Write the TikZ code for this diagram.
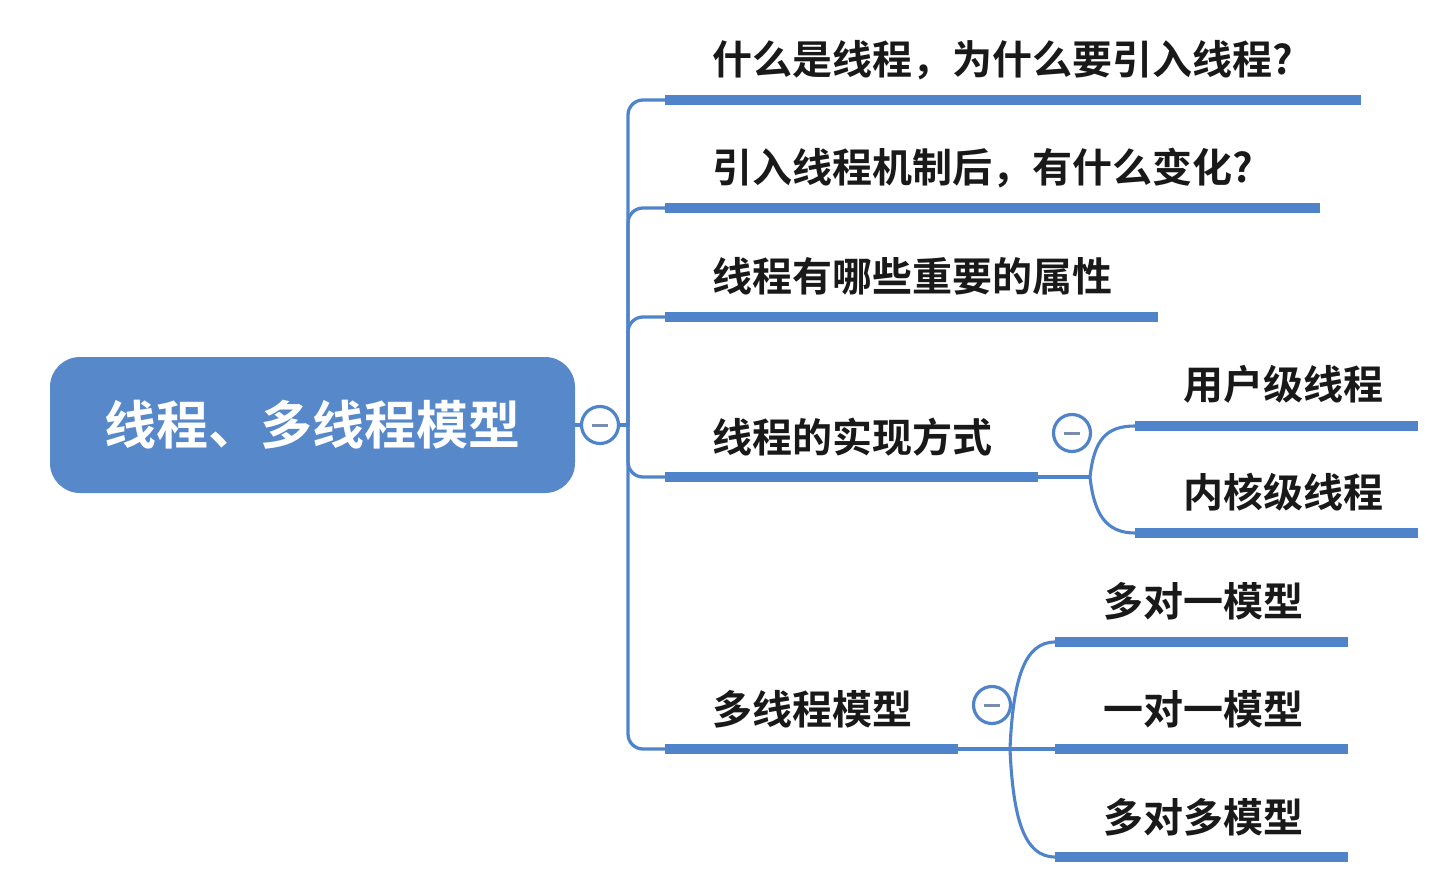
\documentclass[tikz,border=0pt]{standalone}
\usepackage{fontspec}
\newfontfamily\cjk{Noto Sans CJK SC}[UprightFont=* Medium,BoldFont=* Bold]
\definecolor{mblue}{RGB}{80,132,202}
\definecolor{rootblue}{RGB}{86,136,202}
\definecolor{minusc}{RGB}{120,140,175}
\begin{document}
\begin{tikzpicture}[x=1pt,y=-1pt,
  bar/.style={fill=mblue,draw=none,inner sep=0pt,minimum height=10.5pt,anchor=west},
  conn/.style={draw=mblue,line width=3.3pt,rounded corners=15pt},
  curv/.style={draw=mblue,line width=3.1pt},
  lbl/.style={font=\cjk\bfseries\fontsize{40}{48}\selectfont,text=black!90,inner sep=0pt,anchor=west},
  collapse/.style={circle,draw=mblue,line width=3.2pt,fill=white,minimum size=37pt,inner sep=0pt,
    path picture={\draw[minusc,line width=3pt] ([xshift=-8pt]path picture bounding box.center) -- ([xshift=8pt]path picture bounding box.center);}}
]
\useasboundingbox (0,0) rectangle (1434,874);
% root
\node[fill=rootblue,rounded corners=30pt,minimum width=525pt,minimum height=136pt,inner sep=0pt,
  text=white,font=\cjk\bfseries\fontsize{52}{60}\selectfont] (root) at (312.5,425) {线程、多线程模型};
\node[collapse] (c0) at (600,425) {};
\coordinate (j0) at (628,425);
\draw[curv] (root.east) -- (c0.west);
\draw[curv] (c0.east) -- (j0);
% bars
\node[bar,minimum width=696pt] (b1) at (665,100) {};
\node[bar,minimum width=655pt] (b2) at (665,208) {};
\node[bar,minimum width=493pt] (b3) at (665,317) {};
\node[bar,minimum width=373pt] (b4) at (665,477) {};
\node[bar,minimum width=293pt] (b5) at (665,749) {};
\node[bar,minimum width=283pt] (s1) at (1135,426) {};
\node[bar,minimum width=283pt] (s2) at (1135,533) {};
\node[bar,minimum width=293pt] (m1) at (1055,642) {};
\node[bar,minimum width=293pt] (m2) at (1055,749) {};
\node[bar,minimum width=293pt] (m3) at (1055,857) {};
% labels
\node[lbl] (t1) at (712,60) {什么是线程，为什么要引入线程?};
\node[lbl] (t2) at (712,168) {引入线程机制后，有什么变化?};
\node[lbl] (t3) at (712,276) {线程有哪些重要的属性};
\node[lbl] (t4) at (712,437) {线程的实现方式};
\node[lbl] (t5) at (712,709) {多线程模型};
\node[lbl] (ts1) at (1183,384) {用户级线程};
\node[lbl] (ts2) at (1183,492) {内核级线程};
\node[lbl] (tm1) at (1103,601) {多对一模型};
\node[lbl] (tm2) at (1103,709) {一对一模型};
\node[lbl] (tm3) at (1103,817) {多对多模型};
% trunk connectors
\draw[conn] (j0) |- (b1.west);
\draw[conn] (j0) |- (b2.west);
\draw[conn] (j0) |- (b3.west);
\draw[conn] (j0) |- (b4.west);
\draw[conn] (j0) |- (b5.west);
% implementation sub-branches
\coordinate (j4) at (1090,477);
\draw[curv] (b4.east) -- (j4);
\draw[curv] (j4) .. controls (1094,440) and (1106,426) .. (s1.west);
\draw[curv] (j4) .. controls (1094,514) and (1106,533) .. (s2.west);
\node[collapse] (c4) at (1072,433) {};
% model sub-branches
\coordinate (j5) at (1010,749);
\draw[curv] (b5.east) -- (j5);
\draw[curv] (j5) .. controls (1013,680) and (1024,642) .. (m1.west);
\draw[curv] (j5) -- (m2.west);
\draw[curv] (j5) .. controls (1013,818) and (1024,857) .. (m3.west);
\node[collapse] (c5) at (992,705) {};
\end{tikzpicture}
\end{document}
